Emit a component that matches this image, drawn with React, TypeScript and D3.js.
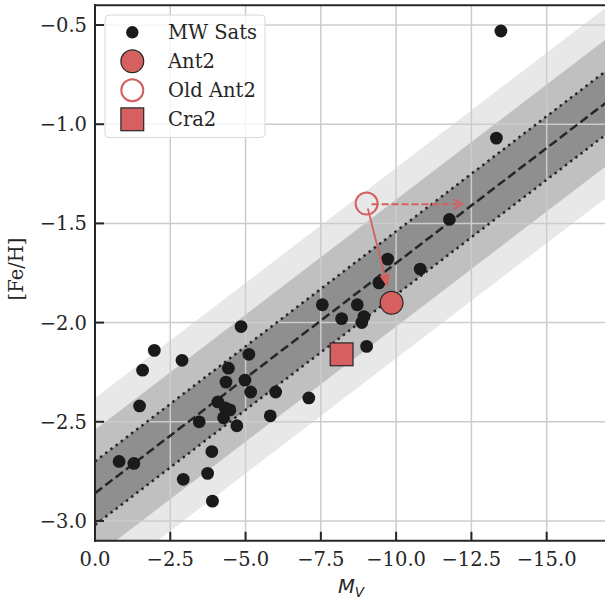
import React, { useEffect } from "react";
import * as d3 from "d3";

// ---- data ----
const mwMv = [
  -13.48, -13.33, -11.77, -9.72, -10.8, -9.43, -7.55, -8.71, -8.19, -8.93, -8.86, -9.02,
  -4.85, -1.97, -2.89, -5.11, -1.58, -4.43, -4.35, -4.98, -5.17, -6.0, -7.1, -1.48,
  -4.08, -4.32, -4.48, -4.27, -3.46, -4.71, -5.82, -3.88, -0.8, -1.29, -3.74, -2.93, -3.9,
];
const mwFeh = [
  -0.53, -1.07, -1.48, -1.68, -1.73, -1.8, -1.91, -1.91, -1.98, -1.97, -2.0, -2.12,
  -2.02, -2.14, -2.19, -2.16, -2.24, -2.23, -2.3, -2.29, -2.35, -2.35, -2.38, -2.42,
  -2.4, -2.43, -2.44, -2.48, -2.5, -2.52, -2.47, -2.65, -2.7, -2.71, -2.76, -2.79, -2.9,
];
const ant2 = { mv: -9.85, feh: -1.9 };
const oldAnt2 = { mv: -9.02, feh: -1.4 };
const cra2 = { mv: -8.19, feh: -2.16 };
const dashedArrowEnd = { mv: -12.2, feh: -1.4 };
// mass-metallicity relation expressed in M_V
const relIntercept = -2.86;
const relSlope = -0.116;
const relSigma = 0.16;
const bandLevels = [3, 2, 1];
const bandColors = ["#e8e8e8", "#c0c0c0", "#8f8f8f"];
const xTicks = [0, -2.5, -5, -7.5, -10, -12.5, -15];
const yTicks = [-3.0, -2.5, -2.0, -1.5, -1.0, -0.5];
const legendItems = ["MW Sats", "Ant2", "Old Ant2", "Cra2"];

const RED = "#d65f5f";
const INK = "#262626";
const FONT = "'DejaVu Serif', serif";
const FS = 19.5;

export default function App() {
  useEffect(() => {
    document.body.style.margin = "0";
  }, []);

  const W = 605,
    H = 599;
  const x = d3.scaleLinear().domain([0, -17]).range([95, 606.9]);
  const y = d3.scaleLinear().domain([-3.1, -0.4]).range([540.8, 5.2]);
  const [x0, x1] = x.range();
  const [yb, yt] = y.range();

  const mvDomain = x.domain();
  const rel = (mv: number) => relIntercept + relSlope * mv;
  const bandArea = (k: number) =>
    d3
      .area<number>()
      .x((d) => x(d))
      .y0((d) => y(rel(d) - k * relSigma))
      .y1((d) => y(rel(d) + k * relSigma))(mvDomain) as string;
  const linePath = (k: number) =>
    d3
      .line<number>()
      .x((d) => x(d))
      .y((d) => y(rel(d) + k * relSigma))(mvDomain) as string;

  const fmt = (v: number) => {
    const s = Math.abs(v).toFixed(1);
    return v < 0 ? "\u2212" + s : s;
  };

  // arrows
  const ox = x(oldAnt2.mv),
    oy = y(oldAnt2.feh);
  const ax = x(ant2.mv),
    ay = y(ant2.feh);
  const dx = ax - ox,
    dy = ay - oy;
  const len = Math.hypot(dx, dy);
  const ux = dx / len,
    uy = dy / len;
  const sStart = 5,
    sEnd = 16.5;
  const sx0 = ox + ux * sStart,
    sy0 = oy + uy * sStart;
  const tipX = ox + ux * (len - sEnd),
    tipY = oy + uy * (len - sEnd);
  const headL = 12,
    headW = 4.5;
  const bx = tipX - ux * headL,
    by = tipY - uy * headL;
  const head = `M${tipX},${tipY} L${bx - uy * headW},${by + ux * headW} L${bx + uy * headW},${by - ux * headW} Z`;

  const dEndX = x(dashedArrowEnd.mv),
    dEndY = y(dashedArrowEnd.feh) + 0.7;

  const legX = 132.3,
    legTextX = 168,
    legY0 = 32.3,
    legDy = 29;

  return (
    <svg width={W} height={H} style={{ position: "absolute", left: 0, top: 0, background: "#fff" }}>
      <defs>
        <clipPath id="plotclip">
          <rect x={x0} y={yt} width={x1 - x0} height={yb - yt} />
        </clipPath>
      </defs>
      <rect x={0} y={0} width={W} height={H} fill="#fff" />
      <g clipPath="url(#plotclip)">
        {bandLevels.map((k, i) => (
          <path key={k} d={bandArea(k)} fill={bandColors[i]} />
        ))}
        {/* grid */}
        {xTicks.map((t) => (
          <line key={"gx" + t} x1={x(t)} x2={x(t)} y1={yt} y2={yb} stroke="#cccccc" strokeWidth={1.5} />
        ))}
        {yTicks.map((t) => (
          <line key={"gy" + t} x1={x0} x2={x1} y1={y(t)} y2={y(t)} stroke="#cccccc" strokeWidth={1.5} />
        ))}
        <path d={linePath(0)} fill="none" stroke={INK} strokeWidth={2.5} strokeDasharray="9,4" />
        <path d={linePath(1)} fill="none" stroke={INK} strokeWidth={2.5} strokeDasharray="2.5,4" />
        <path d={linePath(-1)} fill="none" stroke={INK} strokeWidth={2.5} strokeDasharray="2.5,4" />
        {mwMv.map((mv, i) => (
          <circle key={"mw" + i} cx={x(mv)} cy={y(mwFeh[i])} r={6.4} fill="#1a1a1a" />
        ))}
        <rect
          x={x(cra2.mv) - 11.4}
          y={y(cra2.feh) - 11.4}
          width={22.8}
          height={22.8}
          fill={RED}
          stroke={INK}
          strokeWidth={1.2}
        />
        <circle cx={ax} cy={ay} r={11.4} fill={RED} stroke={INK} strokeWidth={1.2} />
        <circle cx={ox} cy={oy} r={11} fill="none" stroke={RED} strokeWidth={2} />
        {/* solid arrow */}
        <line x1={sx0} y1={sy0} x2={bx} y2={by} stroke={RED} strokeWidth={1.8} />
        <path d={head} fill={RED} stroke={RED} strokeWidth={1} strokeLinejoin="miter" />
        {/* dashed arrow */}
        <line x1={ox + 5} y1={dEndY} x2={dEndX} y2={dEndY} stroke={RED} strokeWidth={1.8} strokeDasharray="7,3" />
        <path
          d={`M${dEndX - 9},${dEndY - 5} L${dEndX},${dEndY} L${dEndX - 9},${dEndY + 5}`}
          fill="none"
          stroke={RED}
          strokeWidth={1.8}
        />
      </g>

      {/* spines */}
      <line x1={x0} x2={x0} y1={yt} y2={yb} stroke={INK} strokeWidth={2} strokeLinecap="square" />
      <line x1={x0} x2={x1} y1={yb} y2={yb} stroke={INK} strokeWidth={2} strokeLinecap="square" />
      <line x1={x0} x2={x1} y1={yt} y2={yt} stroke={INK} strokeWidth={2} strokeLinecap="square" />
      <line x1={x1} x2={x1} y1={yt} y2={yb} stroke={INK} strokeWidth={2} />

      {/* ticks */}
      {xTicks.map((t) => (
        <g key={"tx" + t}>
          <line x1={x(t)} x2={x(t)} y1={yb} y2={yb - 9} stroke={INK} strokeWidth={2} />
          <text x={x(t)} y={565.5} textAnchor="middle" fontFamily={FONT} fontSize={FS} fill={INK}>
            {fmt(t)}
          </text>
        </g>
      ))}
      {yTicks.map((t) => (
        <g key={"ty" + t}>
          <line x1={x0} x2={x0 + 9} y1={y(t)} y2={y(t)} stroke={INK} strokeWidth={2} />
          <text x={87} y={y(t)} dy="0.36em" textAnchor="end" fontFamily={FONT} fontSize={FS} fill={INK}>
            {fmt(t)}
          </text>
        </g>
      ))}

      {/* axis labels */}
      <text
        transform={`translate(23,${(yt + yb) / 2 - 4}) rotate(-90)`}
        textAnchor="middle"
        fontFamily={FONT}
        fontSize={FS}
        fill={INK}
      >
        [Fe/H]
      </text>
      <text x={(x0 + x1) / 2} y={593} textAnchor="middle" fontFamily="'DejaVu Sans', sans-serif" fill={INK}>
        <tspan fontStyle="italic" fontSize={FS}>
          M
        </tspan>
        <tspan fontStyle="italic" fontSize={13.6} dy={3.5}>
          V
        </tspan>
      </text>

      {/* legend */}
      <rect x={105} y={15} width={160} height={122.5} rx={4} fill="#ffffff" fillOpacity={0.8} stroke="#d8d8d8" strokeWidth={1} />
      <circle cx={legX} cy={legY0} r={6.2} fill="#1a1a1a" />
      <circle cx={legX} cy={legY0 + legDy} r={11.4} fill={RED} stroke={INK} strokeWidth={1.2} />
      <circle cx={legX} cy={legY0 + 2 * legDy} r={11} fill="none" stroke={RED} strokeWidth={2} />
      <rect
        x={legX - 11.4}
        y={legY0 + 3 * legDy - 11.4}
        width={22.8}
        height={22.8}
        fill={RED}
        stroke={INK}
        strokeWidth={1.2}
      />
      {legendItems.map((s, i) => (
        <text key={s} x={legTextX} y={legY0 + i * legDy} dy="0.36em" fontFamily={FONT} fontSize={FS} fill={INK}>
          {s}
        </text>
      ))}
    </svg>
  );
}
